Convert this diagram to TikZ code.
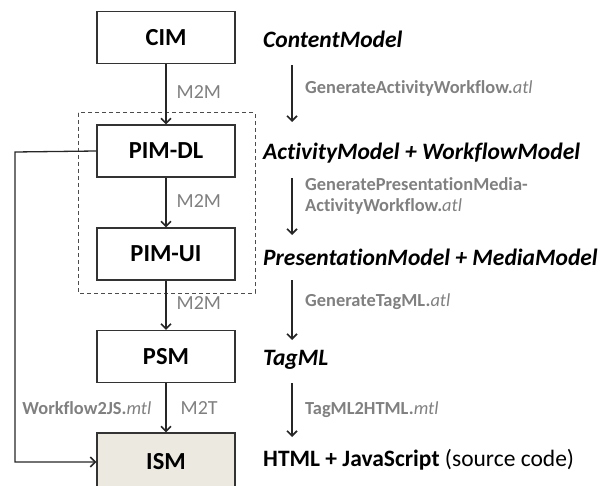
\documentclass[tikz,border=0pt]{standalone}
\usepackage{fontspec}
\setmainfont[Ligatures=NoCommon]{Carlito}
\usepackage{tikz}
\usetikzlibrary{arrows.meta}
\definecolor{lblgray}{RGB}{128,128,128}
\definecolor{ismfill}{RGB}{236,233,224}

\begin{document}
\begin{tikzpicture}[x=1pt, y=-1pt,
    model/.style={draw=black!80, line width=1.2pt, fill=white, minimum width=138pt, minimum height=52pt, font=\fontsize{24.5}{26}\selectfont\bfseries},
    meta/.style={anchor=west, inner sep=0pt, font=\fontsize{23.5}{26}\selectfont\bfseries\itshape},
    trafo/.style={text=lblgray, inner sep=0pt, font=\fontsize{18.4}{21}\selectfont\bfseries},
    mlbl/.style={text=lblgray, inner sep=0pt, font=\fontsize{20}{22}\selectfont},
    arr/.style={-{Straight Barb[length=5pt, width=10pt, line width=1.6pt]}, black!85, line width=1.3pt}]
    \useasboundingbox (0,0) rectangle (609,486);

    \draw[black!70, dash pattern=on 4pt off 3pt, line width=1pt] (78,113) rectangle (255,293);

    \node[model] (cim) at (166,37.5) {CIM};
    \node[model] (pimdl) at (166,151) {PIM-DL};
    \node[model] (pimui) at (166,254) {PIM-UI};
    \node[model] (psm) at (166,356.5) {PSM};
    \node[model, fill=ismfill, minimum height=58pt] (ism) at (166,462) {ISM};

    \draw[arr] (cim) -- (pimdl) node[pos=0.47, mlbl, anchor=west, xshift=10pt]{M2M};
    \draw[arr] (pimdl) -- (pimui) node[pos=0.47, mlbl, anchor=west, xshift=10pt]{M2M};
    \draw[arr] (pimui) -- (psm) node[pos=0.45, mlbl, anchor=west, xshift=10pt]{M2M};
    \draw[arr] (psm) -- (ism) node[pos=0.5, mlbl, anchor=west, xshift=14pt]{M2T}
        node[pos=0.5, trafo, anchor=east, xshift=-14pt]{Workflow2JS.\textmd{\itshape mtl}};
    \draw[arr] (pimdl.west) -- (15,152) |- (ism.west);

    \node[meta] (cm) at (263,39) {ContentModel};
    \node[meta] (am) at (263,153) {ActivityModel + WorkflowModel};
    \node[meta] (pm) at (263,257) {PresentationModel + MediaModel};
    \node[meta] (tm) at (263,360) {TagML};
    \node[meta, font=\fontsize{23.5}{26}\selectfont\bfseries] (hm) at (263,460) {HTML + JavaScript \textmd{(source code)}};

    \coordinate (s1) at (292,65);  \coordinate (e1) at (292,122);
    \coordinate (s2) at (292,178); \coordinate (e2) at (292,235);
    \coordinate (s3) at (292,280); \coordinate (e3) at (292,340);
    \coordinate (s4) at (292,383); \coordinate (e4) at (292,437);
    \draw[arr] (s1) -- (e1);
    \draw[arr] (s2) -- (e2);
    \draw[arr] (s3) -- (e3);
    \draw[arr] (s4) -- (e4);

    \node[trafo, anchor=west] (t1) at (305,88) {GenerateActivityWorkflow.\textmd{\itshape atl}};
    \node[trafo, anchor=west, align=left] (t2) at (305,196) {GeneratePresentationMedia-\\ActivityWorkflow.\textmd{\itshape atl}};
    \node[trafo, anchor=west] (t3) at (305,302) {GenerateTagML.\textmd{\itshape atl}};
    \node[trafo, anchor=west] (t4) at (305,410) {TagML2HTML.\textmd{\itshape mtl}};
\end{tikzpicture}
\end{document}
